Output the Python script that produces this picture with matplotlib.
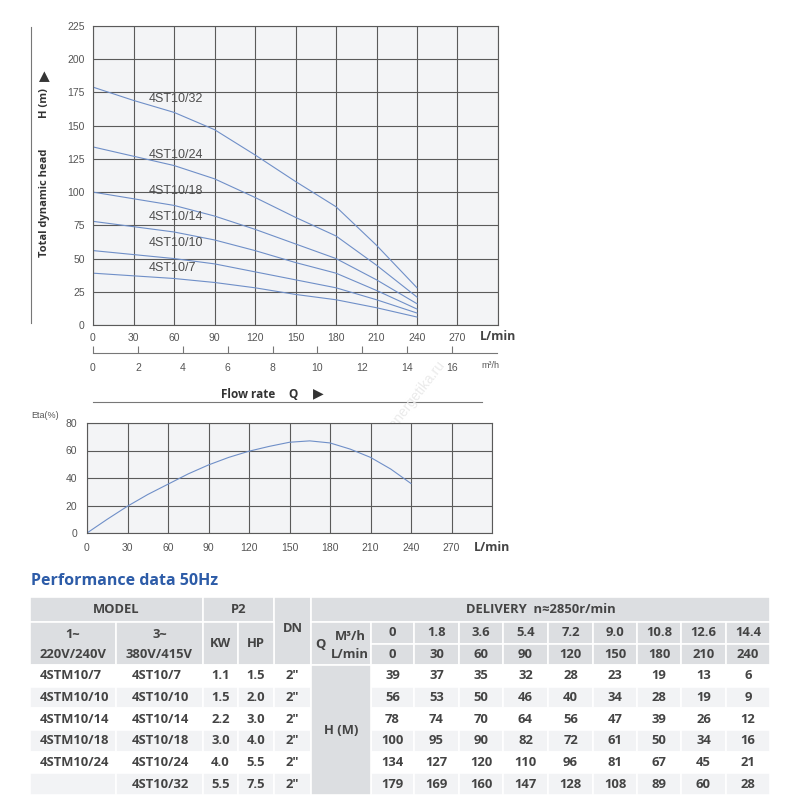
import matplotlib
matplotlib.use("Agg")
import matplotlib.pyplot as plt
from matplotlib.lines import Line2D
from matplotlib.patches import Rectangle

# ---------------- data ----------------
flow_lmin = [0, 30, 60, 90, 120, 150, 180, 210, 240]
flow_m3h = ["0", "1.8", "3.6", "5.4", "7.2", "9.0", "10.8", "12.6", "14.4"]
models_3ph = ["4ST10/7", "4ST10/10", "4ST10/14", "4ST10/18", "4ST10/24", "4ST10/32"]
models_1ph = ["4STM10/7", "4STM10/10", "4STM10/14", "4STM10/18", "4STM10/24", ""]
kw = ["1.1", "1.5", "2.2", "3.0", "4.0", "5.5"]
hp = ["1.5", "2.0", "3.0", "4.0", "5.5", "7.5"]
dn = ['2"', '2"', '2"', '2"', '2"', '2"']
head = [
    [39, 37, 35, 32, 28, 23, 19, 13, 6],
    [56, 53, 50, 46, 40, 34, 28, 19, 9],
    [78, 74, 70, 64, 56, 47, 39, 26, 12],
    [100, 95, 90, 82, 72, 61, 50, 34, 16],
    [134, 127, 120, 110, 96, 81, 67, 45, 21],
    [179, 169, 160, 147, 128, 108, 89, 60, 28],
]
label_pos_x = [41, 41, 41, 41, 41, 41]
label_pos_y = [43, 62, 81, 101, 128, 170]
eta_q = [0, 15, 30, 45, 60, 75, 90, 105, 120, 135, 150, 165, 180, 195, 210, 225, 240]
eta_v = [0, 10, 19.5, 28, 35.5, 43, 49.5, 55, 59.5, 63, 66, 67, 65.5, 61, 55, 46.5, 36]
h_ticks = [0, 25, 50, 75, 100, 125, 150, 175, 200, 225]
q_ticks = [0, 30, 60, 90, 120, 150, 180, 210, 240, 270]
m3h_ticks = [0, 2, 4, 6, 8, 10, 12, 14, 16]
eta_ticks = [0, 20, 40, 60, 80]

W, H = 800, 800
fig = plt.figure(figsize=(8, 8), dpi=100)
fig.patch.set_facecolor("white")

def ax_px(x0, y0, x1, y1):
    return fig.add_axes([x0 / W, 1 - y1 / H, (x1 - x0) / W, (y1 - y0) / H])

BG = "#f3f4f6"
GRID = "#5a5a5a"
CURVE = "#6f8fc8"
TICKC = "#555555"
FONT = "Liberation Sans"
TF = "Open Sans"
TW = "bold"

# ---------------- overlay axes (pixel coords) ----------------
ov = fig.add_axes([0, 0, 1, 1])
ov.set_xlim(0, W)
ov.set_ylim(H, 0)
ov.axis("off")

# ---------------- head chart ----------------
ax = ax_px(93, 26, 498, 325)
ax.set_facecolor(BG)
ax.set_xlim(0, 300)
ax.set_ylim(0, 225)
ax.set_xticks(q_ticks + [300])
ax.set_xticklabels([str(t) for t in q_ticks] + [""])
ax.set_yticks(h_ticks)
ax.grid(True, color=GRID, linewidth=0.8)
ax.set_axisbelow(True)
for s in ax.spines.values():
    s.set_color(GRID)
    s.set_linewidth(0.8)
ax.tick_params(length=0, labelsize=7.5, labelcolor=TICKC, pad=6)
for lab in ax.get_xticklabels() + ax.get_yticklabels():
    lab.set_fontfamily(FONT)
for i, row in enumerate(head):
    ax.plot(flow_lmin, row, color=CURVE, linewidth=0.8)
    ax.text(label_pos_x[i], label_pos_y[i], models_3ph[i], fontsize=9, color="#4d4d4d",
            fontfamily=FONT, va="center", ha="left")
ax.text(300, -9, "L/min", fontsize=9, fontweight="bold", color="#444444",
        ha="center", va="center", fontfamily="Open Sans", clip_on=False)

# m3/h secondary axis
ax2 = ax_px(93, 352, 497, 353)
ax2.set_xlim(0, 18)
ax2.set_facecolor("none")
for k in ["top", "left", "right"]:
    ax2.spines[k].set_visible(False)
ax2.spines["bottom"].set_color("#777777")
ax2.spines["bottom"].set_linewidth(0.8)
ax2.set_yticks([])
ax2.set_xticks(m3h_ticks)
ax2.tick_params(axis="x", direction="in", length=5, color="#777777", labelsize=7.5,
                labelcolor=TICKC, pad=7)
for lab in ax2.get_xticklabels():
    lab.set_fontfamily(FONT)
ov.text(490, 366, "m\u00b3/h", fontsize=6.5, color=TICKC, ha="center", va="center", fontfamily=FONT)

# flow rate label and line
ov.text(248, 394, "Flow rate", fontsize=8.5, fontweight="bold", color="#333333",
        ha="center", va="center", fontfamily="Open Sans")
ov.text(293, 394, "Q", fontsize=8.5, fontweight="bold", color="#333333",
        ha="center", va="center", fontfamily="Open Sans")
ov.text(318, 393, "\u25b6", fontsize=10, color="#333333", ha="center", va="center",
        fontfamily="DejaVu Sans")
ov.add_line(Line2D([93, 482], [402, 402], color="#777777", linewidth=0.8))

# left axis label & line
ov.add_line(Line2D([31, 31], [27, 323], color="#777777", linewidth=0.8))
ov.text(44, 203, "Total dynamic head", rotation=90, fontsize=8, fontweight="bold",
        color="#333333", ha="center", va="center", fontfamily="Open Sans")
ov.text(44, 103, "H (m)", rotation=90, fontsize=8, fontweight="bold",
        color="#333333", ha="center", va="center", fontfamily="Open Sans")
ov.text(44, 76, "\u25b6", rotation=90, fontsize=10, color="#333333",
        ha="center", va="center", fontfamily="DejaVu Sans")

# watermark
ov.text(405, 410, "home-energetika.ru", rotation=52, fontsize=10, color="#ebebeb",
        ha="center", va="center", fontfamily=FONT)

# ---------------- efficiency chart ----------------
ae = ax_px(87, 423, 492, 533)
ae.set_facecolor(BG)
ae.set_xlim(0, 300)
ae.set_ylim(0, 80)
ae.set_xticks(q_ticks + [300])
ae.set_xticklabels([str(t) for t in q_ticks] + [""])
ae.set_yticks(eta_ticks)
ae.grid(True, color=GRID, linewidth=0.8)
ae.set_axisbelow(True)
for s in ae.spines.values():
    s.set_color(GRID)
    s.set_linewidth(0.8)
ae.tick_params(length=0, labelsize=7.5, labelcolor=TICKC, pad=7)
for lab in ae.get_xticklabels() + ae.get_yticklabels():
    lab.set_fontfamily(FONT)
ae.plot(eta_q, eta_v, color=CURVE, linewidth=0.8)
ae.text(300, -10.5, "L/min", fontsize=9, fontweight="bold", color="#444444",
        ha="center", va="center", fontfamily="Open Sans", clip_on=False)
ov.text(45, 415, "Eta(%)", fontsize=6.5, color=TICKC, ha="center", va="center", fontfamily=FONT)

# ---------------- table ----------------
ov.text(31, 581, "Performance data 50Hz", fontsize=11.5, fontweight="bold", color="#2d5ca8",
        ha="left", va="center", fontfamily="Open Sans")

HDR = "#dcdee1"
ALT = "#f2f3f5"
TXT = "#444444"

def cell(x0, y0, x1, y1, color):
    ov.add_patch(Rectangle((x0, y0), x1 - x0, y1 - y0, facecolor=color, edgecolor="white",
                           linewidth=1.2))

def txt(x, y, s, size=9.4, ha="center"):
    ov.text(x, y, s, fontsize=size, fontweight=TW, color=TXT, ha=ha, va="center",
            fontfamily=TF)

col_x = [30, 116, 203, 238, 274, 311, 371, 414, 459, 503, 548, 593, 637, 681, 726, 770]
r_top, r1, r_mid, r2 = 597, 622, 643.5, 665
r_bot = 795
row_h = (r_bot - r2) / 6

# header row 1
cell(col_x[0], r_top, col_x[2], r1, HDR)
cell(col_x[2], r_top, col_x[4], r1, HDR)
cell(col_x[4], r_top, col_x[5], r2, HDR)
cell(col_x[5], r_top, col_x[-1], r1, HDR)
txt((col_x[0] + col_x[2]) / 2, (r_top + r1) / 2, "MODEL")
txt((col_x[2] + col_x[4]) / 2, (r_top + r1) / 2, "P2")
txt((col_x[4] + col_x[5]) / 2, (r_top + r2) / 2 - 3, "DN")
txt((col_x[5] + col_x[-1]) / 2, (r_top + r1) / 2, "DELIVERY  n\u22482850r/min")

# header row 2
cell(col_x[0], r1, col_x[1], r2, HDR)
cell(col_x[1], r1, col_x[2], r2, HDR)
cell(col_x[2], r1, col_x[3], r2, HDR)
cell(col_x[3], r1, col_x[4], r2, HDR)
cell(col_x[5], r1, col_x[6], r2, HDR)
txt((col_x[0] + col_x[1]) / 2, 634, "1~")
txt((col_x[0] + col_x[1]) / 2, 654, "220V/240V")
txt((col_x[1] + col_x[2]) / 2, 634, "3~")
txt((col_x[1] + col_x[2]) / 2, 654, "380V/415V")
txt((col_x[2] + col_x[3]) / 2, (r1 + r2) / 2, "KW")
txt((col_x[3] + col_x[4]) / 2, (r1 + r2) / 2, "HP")
txt(320, 644, "Q")
txt(350, 636, "M\u00b3/h")
txt(350, 654, "L/min")
for j in range(9):
    x0, x1 = col_x[6 + j], col_x[7 + j]
    cell(x0, r1, x1, r_mid, HDR)
    cell(x0, r_mid, x1, r2, HDR)
    txt((x0 + x1) / 2, (r1 + r_mid) / 2, flow_m3h[j])
    txt((x0 + x1) / 2, (r_mid + r2) / 2, str(flow_lmin[j]))

# data rows
for i in range(6):
    y0 = r2 + i * row_h
    y1 = y0 + row_h
    bg = "white" if i % 2 == 0 else ALT
    ym = (y0 + y1) / 2
    for c in [0, 1, 2, 3, 4]:
        cell(col_x[c], y0, col_x[c + 1], y1, bg)
    txt(col_x[0] + 10, ym, models_1ph[i], ha="left")
    txt(col_x[1] + 16, ym, models_3ph[i], ha="left")
    txt((col_x[2] + col_x[3]) / 2, ym, kw[i])
    txt((col_x[3] + col_x[4]) / 2, ym, hp[i])
    txt((col_x[4] + col_x[5]) / 2, ym, dn[i])
    for j in range(9):
        x0, x1 = col_x[6 + j], col_x[7 + j]
        cell(x0, y0, x1, y1, bg)
        txt((x0 + x1) / 2, ym, str(head[i][j]))

cell(col_x[5], r2, col_x[6], r_bot, HDR)
txt((col_x[5] + col_x[6]) / 2, (r2 + r_bot) / 2, "H (M)")

fig.savefig("out.png", dpi=100)
